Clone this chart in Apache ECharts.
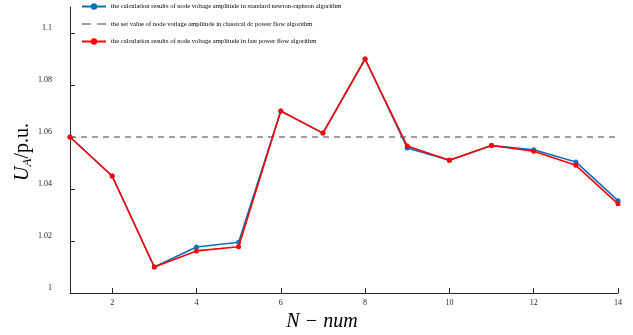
<!DOCTYPE html>
<html>
<head>
<meta charset="utf-8">
<script src="https://cdn.jsdelivr.net/npm/echarts@6/dist/echarts.min.js"></script>
<style>
html,body{margin:0;padding:0;background:#fff;}
#chart{width:633px;height:335px;}
</style>
</head>
<body>
<div id="chart"></div>
<script>
// Node numbers along the horizontal axis
const nodes = [1, 2, 3, 4, 5, 6, 7, 8, 9, 10, 11, 12, 13, 14];
// Node voltage amplitude, standard Newton-Raphson
const newtonRaphson = [1.060, 1.045, 1.010, 1.0177, 1.0195, 1.070, 1.0615, 1.090, 1.0558, 1.0511, 1.0567, 1.0551, 1.0504, 1.0355];
// Set value of node voltage amplitude in classical DC power flow
const setValue = [1.060, 1.060, 1.060, 1.060, 1.060, 1.060, 1.060, 1.060, 1.060, 1.060, 1.060, 1.060, 1.060, 1.060];
// Node voltage amplitude, fast power flow
const fastFlow = [1.060, 1.045, 1.010, 1.0162, 1.0178, 1.070, 1.0615, 1.090, 1.0565, 1.0511, 1.0567, 1.0545, 1.0491, 1.0343];
// Tick values
const xTicks = [2, 4, 6, 8, 10, 12, 14];
const yTicks = [1, 1.02, 1.04, 1.06, 1.08, 1.1];

const seriesNames = [
  'the calculation results of node voltage amplitude in standard newton-raphson algorithm',
  'the set value of node votlage amplitude in classical dc power flow algorithm',
  'the calculation results of node voltage amplitude in fast power flow algorithm'
];

const pair = arr => nodes.map((n, i) => [n, arr[i]]);
const axisColor = '#262626';
const serif = '"Liberation Serif", "DejaVu Serif", serif';
// two short dashes for the reference-level legend entry
const dashIcon = 'path://M0,0 L8,0 L8,1.6 L0,1.6 Z M14,0 L22,0 L22,1.6 L14,1.6 Z';

const chart = echarts.init(document.getElementById('chart'), null, {renderer: 'canvas'});
chart.setOption({
  animation: false,
  backgroundColor: '#ffffff',
  grid: {left: 70, right: 15, top: 7, bottom: 42, containLabel: false, outerBoundsMode: 'none'},
  legend: {
    orient: 'vertical',
    left: 81,
    top: 3,
    padding: 0,
    itemWidth: 24,
    itemHeight: 8,
    itemGap: 10.5,
    textStyle: {fontFamily: serif, fontSize: 6.6, color: '#000'},
    data: [
      {name: seriesNames[0]},
      {name: seriesNames[1], icon: dashIcon, itemStyle: {color: '#808080'}},
      {name: seriesNames[2]}
    ]
  },
  xAxis: {
    type: 'value',
    min: 1,
    max: 14,
    name: 'N − num',
    nameLocation: 'middle',
    nameGap: 19,
    nameMoveOverlap: false,
    nameTextStyle: {fontFamily: serif, fontStyle: 'italic', fontSize: 20, color: '#000', padding: [0, 44, 0, 0]},
    axisLine: {show: true, lineStyle: {color: axisColor, width: 1}},
    axisTick: {show: true, inside: true, length: 5, customValues: xTicks, lineStyle: {color: axisColor}},
    axisLabel: {customValues: xTicks, margin: 6, fontFamily: serif, fontSize: 8, color: axisColor},
    splitLine: {show: false}
  },
  yAxis: {
    type: 'value',
    min: 1,
    max: 1.11,
    name: '{u|U}{s|A}{n|/p.u.}',
    nameLocation: 'middle',
    nameGap: 36,
    nameMoveOverlap: false,
    nameRotate: 90,
    nameTextStyle: {
      padding: [0, 4, 0, 0],
      rich: {
        u: {fontFamily: serif, fontStyle: 'italic', fontSize: 20, color: '#000'},
        s: {fontFamily: serif, fontStyle: 'italic', fontSize: 13, color: '#000', verticalAlign: 'bottom', padding: [9, 0, 0, 0]},
        n: {fontFamily: serif, fontSize: 20, color: '#000'}
      }
    },
    axisLine: {show: true, lineStyle: {color: axisColor, width: 1}},
    axisTick: {show: true, inside: true, length: 5, customValues: yTicks, lineStyle: {color: axisColor}},
    axisLabel: {
      customValues: yTicks,
      margin: 18,
      fontFamily: serif,
      fontSize: 8,
      color: axisColor,
      verticalAlign: 'bottom',
      padding: [0, 0, 1, 0],
      formatter: v => String(Math.round(v * 100) / 100)
    },
    splitLine: {show: false}
  },
  series: [
    {
      name: seriesNames[0],
      type: 'line',
      data: pair(newtonRaphson),
      symbol: 'circle',
      symbolSize: 5,
      color: '#0072BD',
      lineStyle: {width: 1.6, color: '#0072BD'},
      itemStyle: {color: '#0072BD'},
      z: 2
    },
    {
      name: seriesNames[1],
      type: 'line',
      data: pair(setValue),
      showSymbol: false,
      symbol: 'none',
      color: '#808080',
      lineStyle: {width: 1.6, color: '#808080', type: [6, 5]},
      z: 1
    },
    {
      name: seriesNames[2],
      type: 'line',
      data: pair(fastFlow),
      symbol: 'circle',
      symbolSize: 5,
      color: '#FF0000',
      lineStyle: {width: 1.6, color: '#FF0000'},
      itemStyle: {color: '#FF0000'},
      z: 3
    }
  ]
});
</script>
</body>
</html>
